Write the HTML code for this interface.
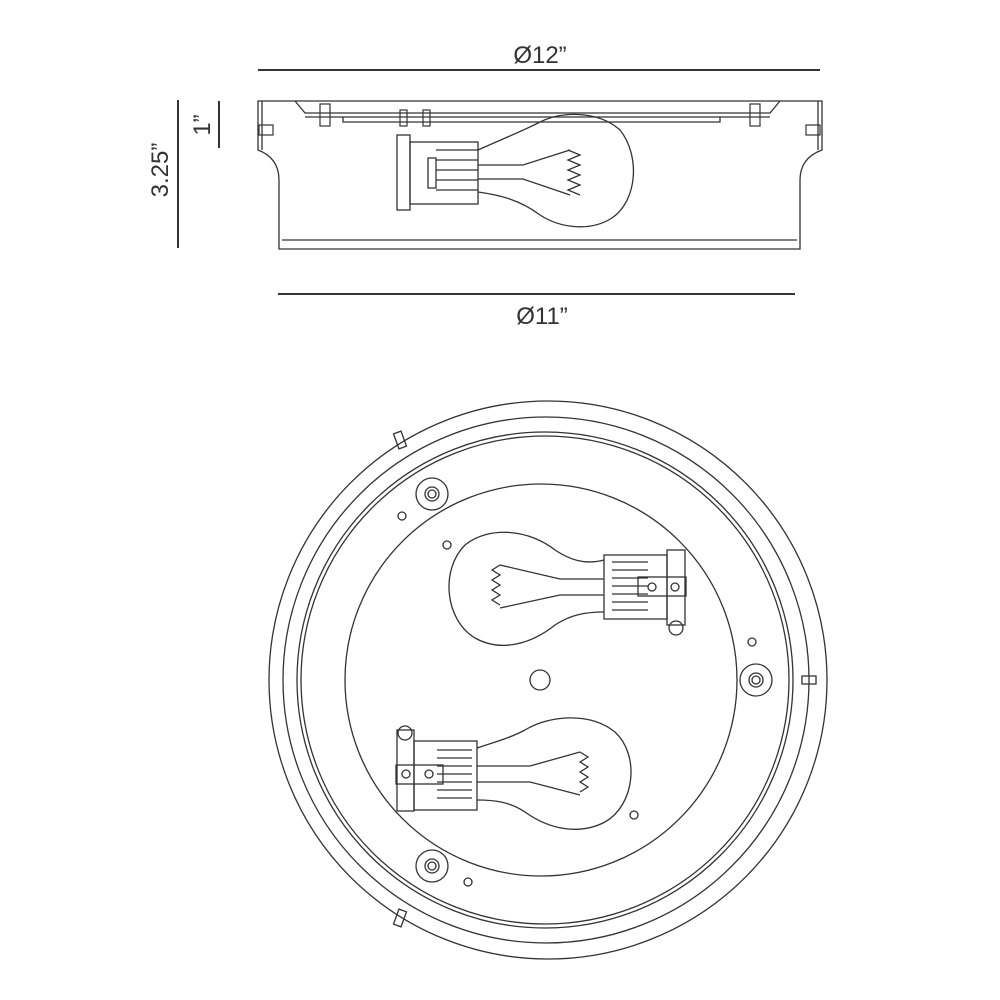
<!DOCTYPE html>
<html><head><style>html,body{margin:0;background:#fff}svg{display:block}</style></head><body>
<svg width="1000" height="1000" viewBox="0 0 1000 1000" xmlns="http://www.w3.org/2000/svg">
<g fill="none" stroke="#333" stroke-width="1.3">
<line x1="258" y1="70" x2="820" y2="70" stroke-width="2"/>
<line x1="278" y1="294" x2="795" y2="294" stroke-width="2"/>
<line x1="178" y1="100" x2="178" y2="248" stroke-width="2"/>
<line x1="219" y1="101" x2="219" y2="148" stroke-width="2"/>
<path d="M258 101 L822 101 L822 150 Q800 158 800 180 L800 249 L279 249 L279 180 Q279 158 258 150 Z"/>
<path d="M262 101 L262 150"/><path d="M818 101 L818 150"/>
<line x1="282" y1="240" x2="797" y2="240"/>
<path d="M295 101 L305 113 L770 113 L780 101"/>
<line x1="305" y1="117" x2="770" y2="117"/>
<path d="M343 117 L343 122 L720 122 L720 117"/>
<g stroke-width="1.2">
<rect x="320" y="104" width="10" height="22"/><rect x="750" y="104" width="10" height="22"/>
<rect x="400" y="110" width="7" height="16"/><rect x="423" y="110" width="7" height="16"/>
<rect x="259" y="125" width="14" height="10"/><rect x="806" y="125" width="14" height="10"/>
</g>
<rect x="397" y="135" width="13" height="75"/>
<rect x="410" y="142" width="68" height="62"/>
<path d="M436 150 h42 M436 160 h42 M436 170 h42 M436 180 h42 M436 190 h42"/>
<rect x="428" y="158" width="8" height="30"/>
<path d="M478 150 C500 140 525 130 540 122 C565 110 600 112 620 130 C640 155 638 200 612 218 C590 232 560 228 540 215 C520 200 500 195 478 192"/>
<path d="M478 165 L523 165 L570 150 M478 179 L523 179 L570 195"/>
<path d="M568 150 L580 155 L568 160 L580 165 L568 170 L580 175 L568 180 L580 185 L568 190 L580 195"/>
<circle cx="548" cy="680" r="279"/>
<circle cx="546" cy="680" r="263"/>
<circle cx="545" cy="680" r="248"/>
<circle cx="545" cy="680" r="244"/>
<circle cx="541" cy="680" r="196"/>
<circle cx="432" cy="494" r="16"/><circle cx="432" cy="494" r="7"/><circle cx="432" cy="494" r="4"/>
<circle cx="756" cy="680" r="16"/><circle cx="756" cy="680" r="7"/><circle cx="756" cy="680" r="4"/>
<circle cx="432" cy="866" r="16"/><circle cx="432" cy="866" r="7"/><circle cx="432" cy="866" r="4"/>
<circle cx="402" cy="516" r="4"/><circle cx="447" cy="545" r="4"/><circle cx="752" cy="642" r="4"/>
<circle cx="540" cy="680" r="10"/><circle cx="634" cy="815" r="4"/><circle cx="468" cy="882" r="4"/>
<rect x="396" y="432" width="8" height="16" transform="rotate(-20 400 440)"/>
<rect x="802" y="676" width="14" height="8"/>
<rect x="396" y="910" width="8" height="16" transform="rotate(20 400 918)"/>
<path d="M604 560 C585 565 570 560 555 550 C530 530 490 525 465 545 C440 570 445 620 475 638 C500 652 530 645 555 625 C570 615 585 612 604 612"/>
<path d="M560 579 L604 579 M560 595 L604 595 M560 579 L500 565 M560 595 L500 608"/>
<path d="M500 565 L492 570 L500 575 L492 580 L500 585 L492 590 L500 595 L492 600 L500 605"/>
<rect x="604" y="555" width="63" height="64"/>
<path d="M612 562 h36 M612 570 h36 M612 578 h36 M612 586 h36 M612 594 h36 M612 602 h36 M612 610 h36"/>
<rect x="638" y="577" width="48" height="19"/>
<rect x="667" y="550" width="18" height="75"/>
<circle cx="676" cy="628" r="7"/>
<circle cx="652" cy="587" r="4"/><circle cx="675" cy="587" r="4"/>
<path d="M477 748 C495 742 510 738 525 730 C550 715 590 712 615 732 C640 755 635 805 605 822 C580 835 550 830 525 812 C510 802 495 800 477 800"/>
<path d="M477 766 L530 766 M477 782 L530 782 M530 766 L580 752 M530 782 L580 795"/>
<path d="M580 752 L588 757 L580 762 L588 767 L580 772 L588 777 L580 782 L588 787 L580 792"/>
<rect x="414" y="741" width="63" height="69"/>
<path d="M437 750 h35 M437 758 h35 M437 766 h35 M437 774 h35 M437 782 h35 M437 790 h35 M437 798 h35"/>
<rect x="396" y="765" width="47" height="19"/>
<rect x="397" y="730" width="17" height="81"/>
<circle cx="405" cy="733" r="7"/>
<circle cx="406" cy="774" r="4"/><circle cx="429" cy="774" r="4"/>
</g>
<g font-family="Liberation Sans, sans-serif" font-size="24" fill="#333" text-anchor="middle">
<text x="540" y="63">Ø12”</text>
<text x="542" y="324">Ø11”</text>
<text transform="translate(168,170) rotate(-90)">3.25”</text>
<text transform="translate(210,125) rotate(-90)">1”</text>
</g>
</svg>
</body></html>
